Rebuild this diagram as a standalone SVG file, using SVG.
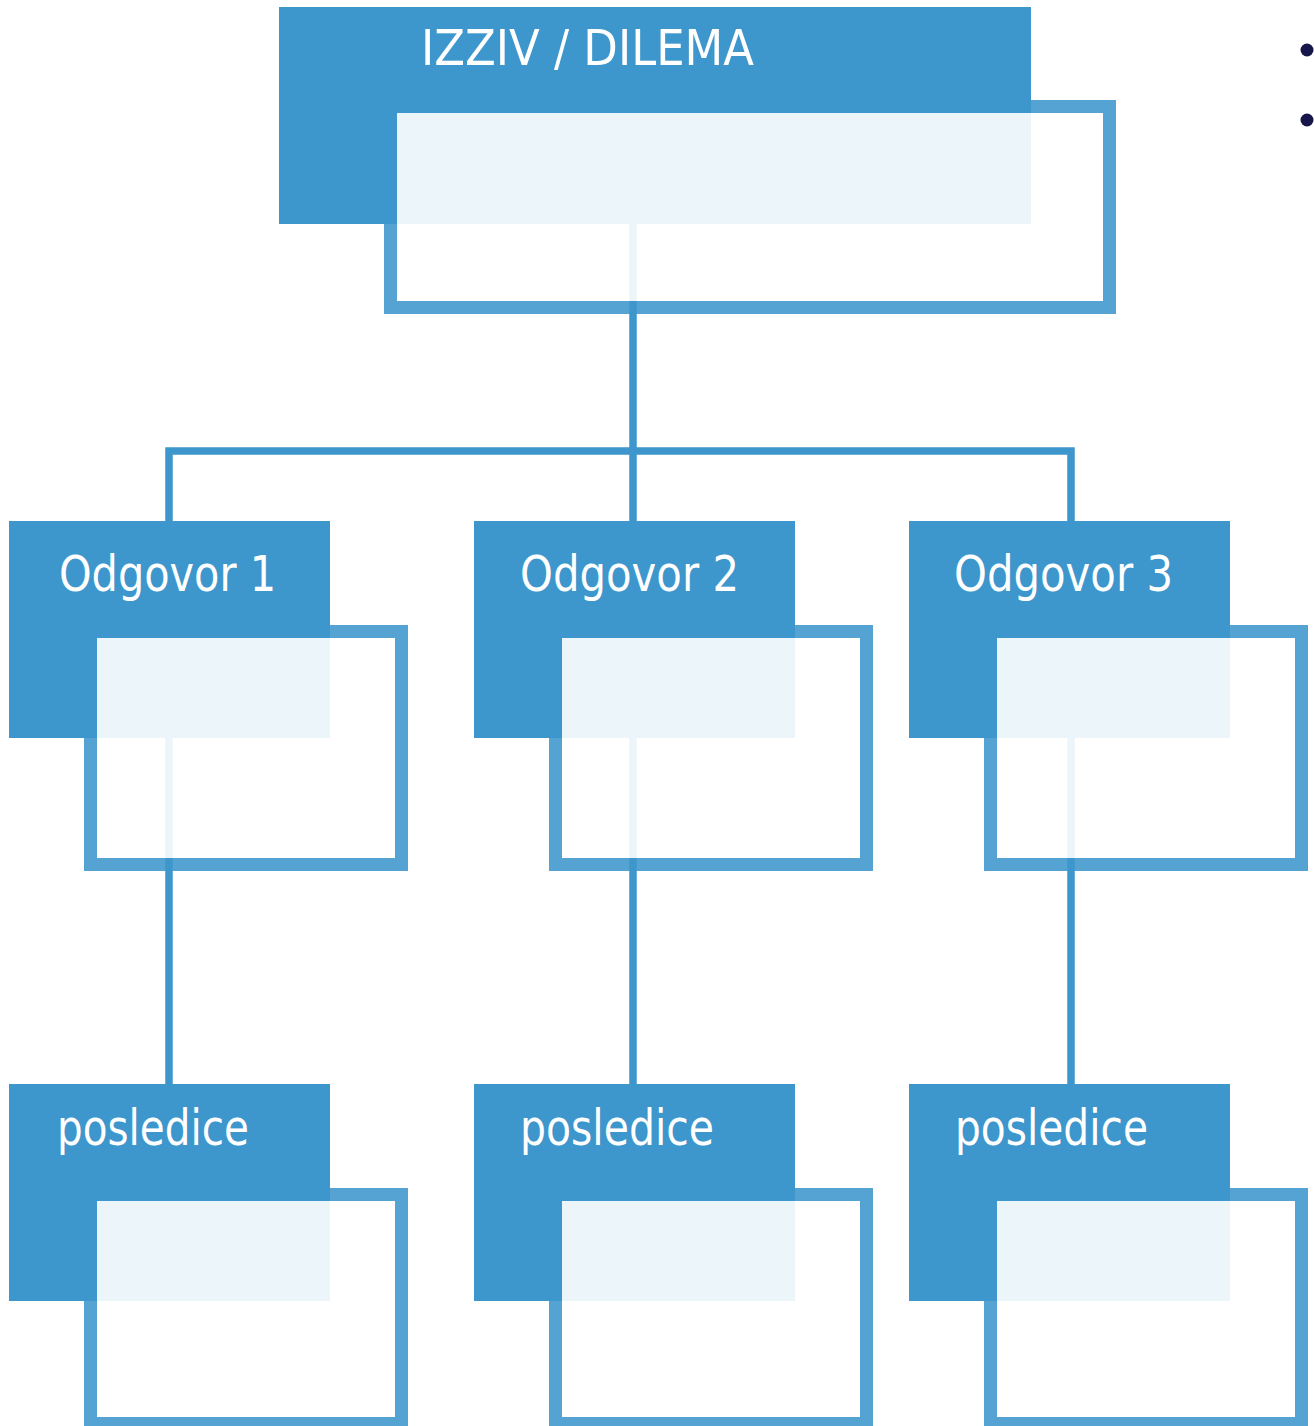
<svg xmlns="http://www.w3.org/2000/svg" width="1314" height="1426" viewBox="0 0 1314 1426">
<style>
.box{fill:#3d96cc}
.inner{fill:#ffffff;fill-opacity:0.9}
.ring{fill:#3d96cc;fill-opacity:0.88;fill-rule:evenodd}
.lbl{fill:#ffffff;font-family:"DejaVu Sans Condensed","DejaVu Sans","Liberation Sans",sans-serif;font-size:49px}
.conn{fill:none;stroke:#3d96cc;stroke-width:7.5;stroke-linejoin:miter}
</style>
<defs>
<g id="frameA">
<rect class="inner" x="97" y="638" width="298" height="220"/>
<path class="ring" d="M84,625 H408 V871 H84 Z M97,638 V858 H395 V638 Z"/>
</g>
<g id="frameB">
<rect class="inner" x="97" y="1201" width="298" height="216"/>
<path class="ring" d="M84,1188 H408 V1430 H84 Z M97,1201 V1417 H395 V1201 Z"/>
</g>
</defs>
<rect width="1314" height="1426" fill="#ffffff"/>
<g id="connectors">
<path class="conn" d="M169,521 V451 H1071 V521"/>
<path class="conn" d="M633,224 V1084"/>
<path class="conn" d="M169,738 V1084"/>
<path class="conn" d="M1071,738 V1084"/>
</g>
<g id="node-izziv">
<rect class="box" x="279" y="7" width="752" height="217"/>
<rect class="inner" x="397" y="113" width="706" height="188"/>
<path class="ring" d="M384,100 H1116 V314 H384 Z M397,113 V301 H1103 V113 Z"/>
<text class="lbl" x="421" y="65" textLength="333" lengthAdjust="spacingAndGlyphs">IZZIV / DILEMA</text>
</g>
<g id="node-odgovor1">
<rect class="box" x="9" y="521" width="321" height="217"/>
<use href="#frameA"/>
<text class="lbl" x="59" y="591" textLength="217" lengthAdjust="spacingAndGlyphs">Odgovor 1</text>
</g>
<g id="node-odgovor2">
<rect class="box" x="474" y="521" width="321" height="217"/>
<use href="#frameA" transform="translate(465,0)"/>
<text class="lbl" x="520" y="591" textLength="219" lengthAdjust="spacingAndGlyphs">Odgovor 2</text>
</g>
<g id="node-odgovor3">
<rect class="box" x="909" y="521" width="321" height="217"/>
<use href="#frameA" transform="translate(900,0)"/>
<text class="lbl" x="954" y="591" textLength="219" lengthAdjust="spacingAndGlyphs">Odgovor 3</text>
</g>
<g id="node-posledice1">
<rect class="box" x="9" y="1084" width="321" height="217"/>
<use href="#frameB"/>
<text class="lbl" x="57" y="1145" textLength="192" lengthAdjust="spacingAndGlyphs">posledice</text>
</g>
<g id="node-posledice2">
<rect class="box" x="474" y="1084" width="321" height="217"/>
<use href="#frameB" transform="translate(465,0)"/>
<text class="lbl" x="520" y="1145" textLength="194" lengthAdjust="spacingAndGlyphs">posledice</text>
</g>
<g id="node-posledice3">
<rect class="box" x="909" y="1084" width="321" height="217"/>
<use href="#frameB" transform="translate(900,0)"/>
<text class="lbl" x="955" y="1145" textLength="193" lengthAdjust="spacingAndGlyphs">posledice</text>
</g>
<g id="bullets" fill="#16164a">
<circle cx="1307" cy="50" r="6.5"/>
<circle cx="1307" cy="120" r="6.5"/>
</g>
</svg>
